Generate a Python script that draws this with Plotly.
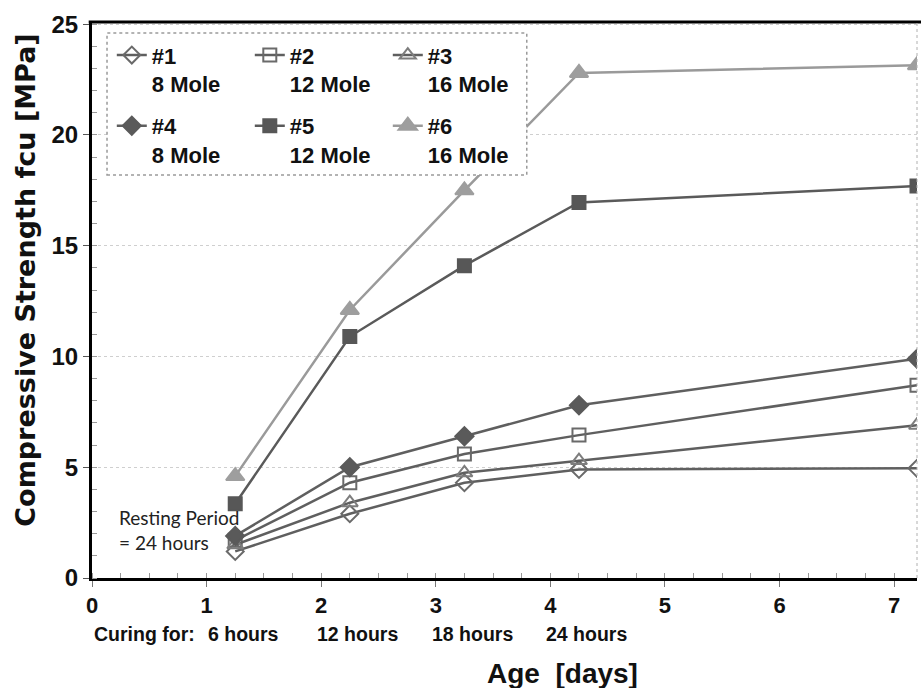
import plotly.graph_objects as go

# Age of specimens at testing (days); the last column is the 7-day test
age_days = [1.25, 2.25, 3.25, 4.25, 7.2]

# Compressive strength fcu (MPa) per mix
mix1 = [1.2, 2.9, 4.3, 4.9, 4.95]
mix2 = [1.7, 4.3, 5.6, 6.45, 8.7]
mix3 = [1.5, 3.4, 4.75, 5.3, 6.9]
mix4 = [1.9, 5.0, 6.4, 7.8, 9.9]
mix5 = [3.35, 10.9, 14.1, 16.95, 17.7]
mix6 = [4.6, 12.1, 17.5, 22.8, 23.15]

mix_names = ["#1<br>8 Mole", "#2<br>12 Mole", "#3<br>16 Mole",
             "#4<br>8 Mole", "#5<br>12 Mole", "#6<br>16 Mole"]

curing_labels = ["6 hours", "12 hours", "18 hours", "24 hours"]
curing_at = [1.25, 2.25, 3.25, 4.25]

ARIAL = "Arial"

series = [
    (mix1, "diamond-open", "#6a6a6a", "#5f5f5f", 13, "legend"),
    (mix2, "square-open", "#6a6a6a", "#5f5f5f", 13, "legend"),
    (mix3, "triangle-up-open", "#7d7d7d", "#5f5f5f", 14, "legend"),
    (mix4, "diamond", "#5a5a5a", "#5f5f5f", 14, "legend2"),
    (mix5, "square", "#575757", "#5a5a5a", 13, "legend2"),
    (mix6, "triangle-up", "#9e9e9e", "#9a9a9a", 16, "legend2"),
]

fig = go.Figure()
for (vals, sym, mcol, lcol, msize, leg), name in zip(series, mix_names):
    fig.add_trace(go.Scatter(
        x=age_days, y=vals, name=name, mode="lines+markers",
        line=dict(color=lcol, width=2.5),
        marker=dict(symbol=sym, size=msize, color=mcol,
                    line=dict(color=mcol, width=2)),
        legend=leg,
    ))

legend_common = dict(
    orientation="h", xanchor="left", yanchor="top",
    entrywidth=93, entrywidthmode="pixels", valign="top",
    bgcolor="rgba(0,0,0,0)", borderwidth=0,
    font=dict(family=ARIAL, size=22, color="#111111", weight="bold"),
    itemclick=False, itemdoubleclick=False,
)

fig.update_layout(
    width=921, height=688,
    margin=dict(l=92, r=4, t=22, b=110),
    paper_bgcolor="white", plot_bgcolor="white",
    showlegend=True,
    legend=dict(x=0.024, y=0.978, **legend_common),
    legend2=dict(x=0.024, y=0.851, **legend_common),
    xaxis=dict(
        range=[0, 7.2], dtick=1, tick0=0,
        showgrid=False, zeroline=False,
        showline=True, linecolor="black", linewidth=3,
        ticks="outside", ticklen=6, tickcolor="#777777", tickwidth=1,
        tickfont=dict(family=ARIAL, size=22, color="#111111", weight="bold"),
        minor=dict(dtick=0.25, ticks="inside", ticklen=5, tickcolor="#999999",
                   showgrid=False),
    ),
    yaxis=dict(
        range=[0, 25.1], dtick=5, tick0=0,
        showgrid=True, gridcolor="#cfcfcf", griddash="dot", gridwidth=1,
        zeroline=False,
        showline=True, linecolor="black", linewidth=3,
        ticks="outside", ticklen=6, tickcolor="#555555", tickwidth=1,
        tickfont=dict(family=ARIAL, size=24, color="#111111", weight="bold"),
        minor=dict(dtick=1, ticks="inside", ticklen=5, tickcolor="#999999",
                   showgrid=False),
    ),
)

# frame: solid top edge and dotted right edge
fig.add_shape(type="line", xref="paper", yref="paper", x0=-0.004, x1=1.01,
              y0=1, y1=1, line=dict(color="black", width=3), layer="above")
fig.add_shape(type="line", xref="paper", yref="paper", x0=1, x1=1,
              y0=0, y1=1, line=dict(color="#b0b0b0", width=1, dash="dot"),
              layer="above")

# legend box
fig.add_shape(type="rect", xref="paper", yref="paper",
              x0=0.0182, x1=0.527, y0=0.725, y1=0.980,
              fillcolor="white", line=dict(color="#9a9a9a", width=1.5, dash="dot"),
              layer="above")

# axis titles
fig.add_annotation(text="Compressive Strength fcu [MPa]", textangle=-90,
                   xref="paper", yref="paper", x=-0.081, y=0.535,
                   xanchor="center", yanchor="middle", showarrow=False,
                   font=dict(family="DejaVu Sans", size=27,
                             color="#111111", weight="bold"))
fig.add_annotation(text="Age  [days]", xref="paper", yref="paper",
                   x=0.57, y=-0.140, xanchor="center", yanchor="top",
                   showarrow=False,
                   font=dict(family=ARIAL, size=28, color="#111111", weight="bold"))

# curing durations beneath the tick labels
fig.add_annotation(text="Curing for:", xref="x", yref="paper", x=0, y=-0.1007,
                   xanchor="left", yanchor="middle", showarrow=False,
                   font=dict(family=ARIAL, size=19.5, color="#111111", weight="bold"))
for lab, xv in zip(curing_labels, curing_at):
    fig.add_annotation(text=lab, xref="x", yref="paper", x=xv, y=-0.1007,
                       xanchor="center", yanchor="middle", xshift=8,
                       showarrow=False,
                       font=dict(family=ARIAL, size=19.5, color="#111111",
                                 weight="bold"))

# resting period note
fig.add_annotation(text="Resting Period<br>= 24 hours", xref="paper", yref="paper",
                   x=0.030, y=0.086, xanchor="left", yanchor="middle",
                   align="left", showarrow=False,
                   font=dict(family="Lato", size=19, color="#222222"))

fig.write_html("out.html")
